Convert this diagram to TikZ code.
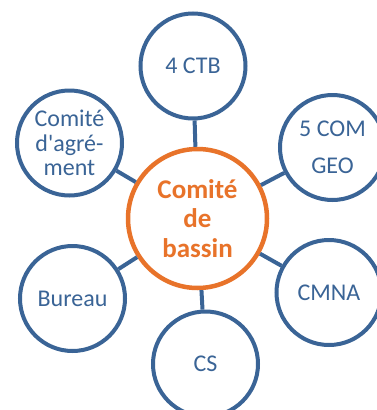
\documentclass[tikz,border=0pt]{standalone}
\usepackage{fontspec}
\setmainfont{Carlito}
\definecolor{cblue}{HTML}{3A6496}
\definecolor{corange}{HTML}{E8732A}
\begin{document}
\begin{tikzpicture}[x=1pt,y=-1pt,
  outer/.style={circle,draw=cblue,line width=4pt,fill=white,minimum size=105pt,inner sep=0pt,
    text=cblue,align=center,font=\fontsize{24}{24.7}\selectfont},
  hub/.style={circle,draw=corange,line width=4.5pt,fill=white,minimum size=139pt,inner sep=0pt,
    text=corange,align=center,font=\fontsize{27}{29.5}\selectfont\bfseries},
  link/.style={draw=cblue,line width=4pt}]
\useasboundingbox (0,0) rectangle (377,410);
\clip (0,0) rectangle (377,410);
\node[hub] (c) at (197.5,218.5) {Comité\\de\\bassin};
\node[outer] (ctb) at (193,66) {4 CTB};
\node[outer] (agr) at (69.5,143) {Comité\\d\textquotesingle agré-\\ment};
\node[outer] (geo) at (332.5,147.5) {5 COM\\[12.3pt]GEO};
\node[outer] (bur) at (72.5,298.5) {Bureau};
\node[outer] (cmna) at (329,292.5) {CMNA};
\node[outer] (cs) at (205.5,364) {CS};
\foreach \n in {ctb,agr,geo,bur,cmna,cs} \draw[link] (c) -- (\n);
\end{tikzpicture}
\end{document}
